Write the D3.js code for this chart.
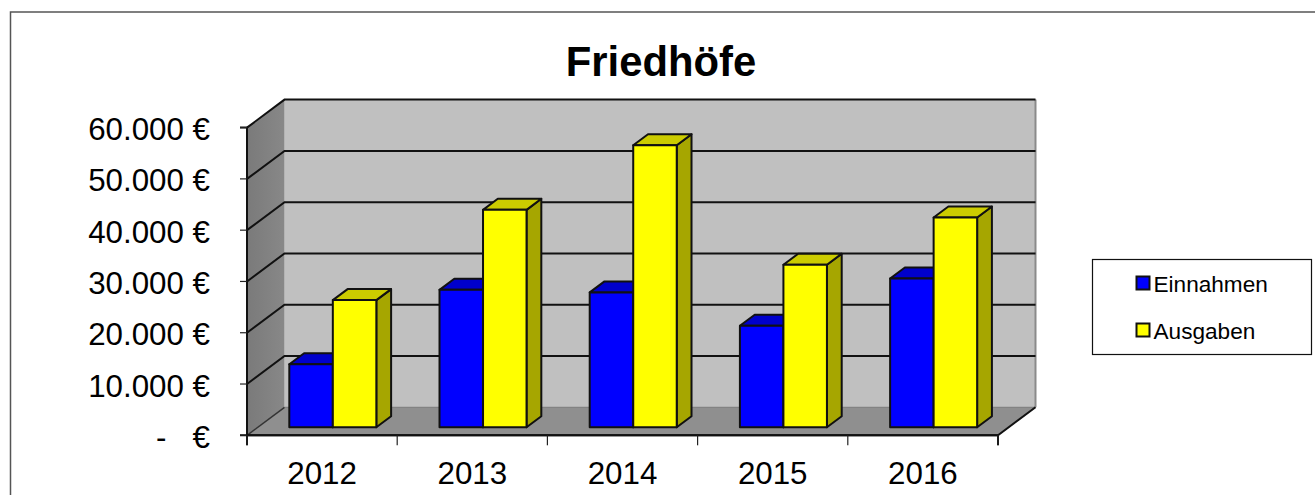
<!DOCTYPE html>
<html lang="de">
  <head>
    <meta charset="utf-8">
    <title>Friedhöfe</title>
    <script src="https://d3js.org/d3.v7.min.js"></script>
    <style>
      body { margin: 0; background: #fff; }
      svg { display: block; }
      text { font-family: "Liberation Sans", Arial, sans-serif; fill: #000; }
    </style>
  </head>
  <body>
    <script>
    // Data
    var years = ["2012", "2013", "2014", "2015", "2016"];
    var einnahmen = [12300, 26800, 26300, 19800, 29000];
    var ausgaben = [24800, 42400, 55000, 31700, 40900];
    var yTicks = [0, 10000, 20000, 30000, 40000, 50000, 60000];
    var seriesNames = ["Einnahmen", "Ausgaben"];

    var svgW = 1315, svgH = 495;

    // Plot geometry
    var depthX = 37.5, depthY = 28;     // floor depth in pixels
    var barFront = 0.286, barBack = 0.68; // where the bars stand in that depth

    var xScale = d3.scaleBand().domain(years).range([247, 998]);
    var xEdges = d3.scaleLinear().domain([0, years.length]).range([247, 998]);
    var xInner = d3.scaleBand().domain(seriesNames)
                   .range([0, xScale.bandwidth()])
                   .paddingInner(0).paddingOuter(0.726);
    var yScale = d3.scaleLinear().domain([0, 60000]).range([435.3, 127.6]);

    var colors = {
      Einnahmen: { front: "#0000ff", top: "#0000cc", side: "#0000a6" },
      Ausgaben: { front: "#ffff00", top: "#cccc00", side: "#a6a600" }
    };

    var svg = d3.select("body").append("svg")
                .attr("width", svgW)
                .attr("height", svgH);

    var grad = svg.append("defs").append("linearGradient")
                  .attr("id", "sideWall");
    grad.append("stop").attr("offset", "0%").attr("stop-color", "#7a7a7a");
    grad.append("stop").attr("offset", "100%").attr("stop-color", "#888888");

    // Outer chart border: only left and top show
    svg.append("path")
       .attr("d", "M10.5," + svgH + "V12H" + svgW)
       .attr("fill", "none")
       .attr("stroke", "#555")
       .attr("stroke-width", 1.5);

    var title = svg.append("text")
       .attr("x", 661)
       .attr("y", 76)
       .attr("text-anchor", "middle")
       .style("font-size", "41.8px")
       .style("font-weight", "bold")
       .text("Friedhöfe");

    // Walls and floor
    var x0 = xScale.range()[0], x1 = xScale.range()[1];
    var yBase = yScale(0), yTop = yScale(60000);
    function poly(pts) { return pts.map(function(p) { return p.join(","); }).join(" "); }

    var walls = svg.append("g");
    walls.append("polygon")
         .attr("points", poly([[x0 + depthX, yTop - depthY], [x1 + depthX, yTop - depthY],
                               [x1 + depthX, yBase - depthY], [x0 + depthX, yBase - depthY]]))
         .attr("fill", "#c0c0c0");
    walls.append("polygon")
         .attr("points", poly([[x0, yTop], [x0 + depthX, yTop - depthY],
                               [x0 + depthX, yBase - depthY], [x0, yBase]]))
         .attr("fill", "url(#sideWall)");
    walls.append("polygon")
         .attr("points", poly([[x0, yBase], [x0 + depthX, yBase - depthY],
                               [x1 + depthX, yBase - depthY], [x1, yBase]]))
         .attr("fill", "#8f8f8f");
    walls.append("line")
         .attr("x1", x1 + depthX).attr("x2", x1 + depthX)
         .attr("y1", yTop - depthY).attr("y2", yBase - depthY)
         .attr("stroke", "#8a8a8a").attr("stroke-width", 2);
    walls.append("line")
         .attr("x1", x0 + depthX).attr("x2", x1 + depthX)
         .attr("y1", yBase - depthY).attr("y2", yBase - depthY)
         .attr("stroke", "#7a7a7a").attr("stroke-width", 1);

    // Gridlines run over the side wall and along the back wall
    svg.append("g").selectAll("polyline")
       .data(yTicks.slice(1))
       .enter()
       .append("polyline")
         .attr("points", function(d) {
           var y = yScale(d);
           return poly([[x0, y], [x0 + depthX, y - depthY], [x1 + depthX, y - depthY]]);
         })
         .attr("fill", "none")
         .attr("stroke", "#111")
         .attr("stroke-width", 2);

    // Floor edges
    svg.append("line")
       .attr("x1", x0).attr("y1", yBase)
       .attr("x2", x0 + depthX).attr("y2", yBase - depthY)
       .attr("stroke", "#333").attr("stroke-width", 1.5);
    svg.append("polyline")
       .attr("points", poly([[x0, yBase], [x1, yBase], [x1 + depthX, yBase - depthY]]))
       .attr("fill", "none")
       .attr("stroke", "#111")
       .attr("stroke-width", 2);

    // Axes
    var yAxis = d3.axisLeft(yScale)
                  .tickValues(yTicks)
                  .tickSize(7)
                  .tickPadding(30)
                  .offset(0)
                  .tickFormat(function(d) {
                    return d === 0 ? "-   €" : d3.format(",")(d).replace(/,/g, ".") + " €";
                  });
    var yG = svg.append("g")
                .attr("transform", "translate(" + x0 + ",0)")
                .call(yAxis);
    yG.selectAll("text")
      .style("font-size", "31.3px")
      .style("white-space", "pre")
      .attr("dy", "0.4em");

    var xTicksAxis = d3.axisBottom(xEdges)
                       .tickValues(d3.range(years.length + 1))
                       .tickSize(10)
                       .offset(0)
                       .tickFormat("");
    svg.append("g")
       .attr("transform", "translate(0," + yBase + ")")
       .call(xTicksAxis);

    var xAxis = d3.axisBottom(xScale).tickSize(0).tickPadding(26).offset(0);
    var xG = svg.append("g")
                .attr("transform", "translate(0," + yBase + ")")
                .call(xAxis);
    xG.selectAll("text").style("font-size", "31.3px");

    svg.selectAll(".domain").attr("stroke", "#111").attr("stroke-width", 2);
    xG.select(".domain").remove();
    svg.selectAll(".tick line").attr("stroke", "#222").attr("stroke-width", 1.2);

    // Bars: one record per category and series
    var dataset = [];
    years.forEach(function(year, i) {
      dataset.push({ year: year, series: "Einnahmen", value: einnahmen[i] });
      dataset.push({ year: year, series: "Ausgaben", value: ausgaben[i] });
    });

    var bars = svg.append("g").selectAll("g")
                  .data(dataset)
                  .enter()
                  .append("g")
                  .each(function(d) {
                    var g = d3.select(this);
                    var fx = barFront * depthX, fy = barFront * depthY;
                    var bx = barBack * depthX, by = barBack * depthY;
                    var left = xScale(d.year) + xInner(d.series) + fx;
                    var right = left + xInner.bandwidth();
                    var bottom = yBase - fy;
                    var top = yScale(d.value) - fy;
                    var dx = bx - fx, dy = by - fy;
                    var c = colors[d.series];

                    g.append("polygon")
                     .attr("points", poly([[right, top], [right + dx, top - dy],
                                           [right + dx, bottom - dy], [right, bottom]]))
                     .attr("fill", c.side);
                    g.append("polygon")
                     .attr("points", poly([[left, top], [left + dx, top - dy],
                                           [right + dx, top - dy], [right, top]]))
                     .attr("fill", c.top);
                    g.append("rect")
                     .attr("x", left)
                     .attr("y", top)
                     .attr("width", right - left)
                     .attr("height", bottom - top)
                     .attr("fill", c.front);
                    g.selectAll("polygon, rect")
                     .attr("stroke", "#111")
                     .attr("stroke-width", 2)
                     .attr("stroke-linejoin", "round");
                  });

    // Legend
    var legend = svg.append("g");
    legend.append("rect")
          .attr("x", 1092.5).attr("y", 259.5)
          .attr("width", 219).attr("height", 95)
          .attr("fill", "#fff")
          .attr("stroke", "#111")
          .attr("stroke-width", 1.2);

    var legendY = d3.scalePoint().domain(seriesNames).range([283, 330]);
    var items = legend.selectAll("g.item")
                      .data(seriesNames)
                      .enter()
                      .append("g")
                      .attr("class", "item")
                      .attr("transform", function(d) { return "translate(0," + legendY(d) + ")"; });
    items.append("rect")
         .attr("x", 1136.5).attr("y", -6.5)
         .attr("width", 13).attr("height", 13)
         .attr("fill", function(d) { return colors[d].front; })
         .attr("stroke", "#111")
         .attr("stroke-width", 2);
    items.append("text")
         .attr("x", 1153.5)
         .attr("y", 8.5)
         .style("font-size", "22.6px")
         .text(function(d) { return d; });
    </script>
  </body>
</html>
